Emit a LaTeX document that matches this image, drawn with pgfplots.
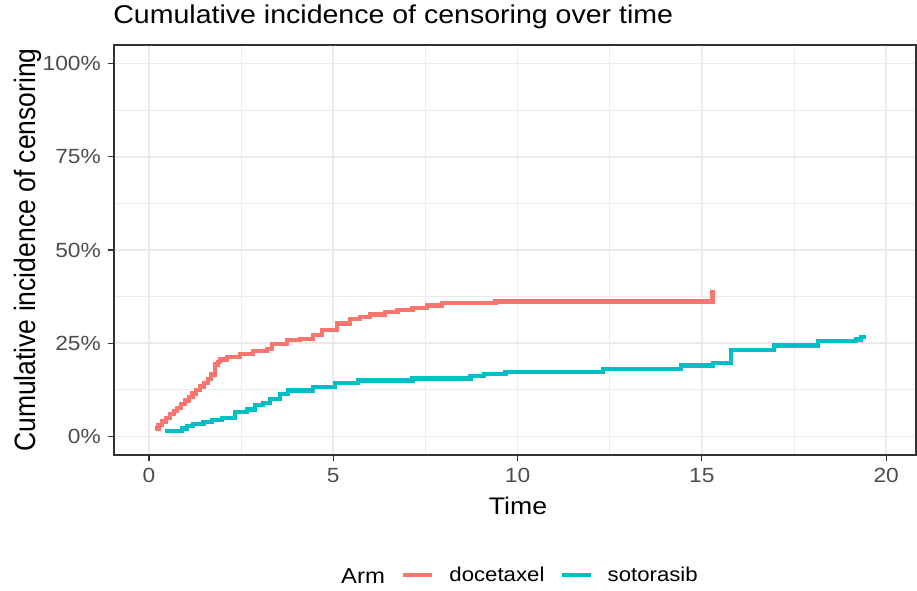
\documentclass[border=0pt]{standalone}
\usepackage{graphicx}
\usepackage{fontspec}
\setmainfont{Liberation Sans}[FakeStretch=1.11]
\newfontfamily\plainsans{Liberation Sans}
\usepackage{pgfplots}
\pgfplotsset{compat=1.18}
\definecolor{doce}{HTML}{F8766D}
\definecolor{soto}{HTML}{00BFC4}
\definecolor{gridc}{HTML}{EBEBEB}
\definecolor{gthirty}{HTML}{4D4D4D}
\definecolor{gtwenty}{HTML}{333333}
\begin{document}
\begin{tikzpicture}[x=1pt,y=1pt]
\useasboundingbox (0,0) rectangle (917,590);
\begin{axis}[
  at={(114pt,135pt)}, anchor=south west,
  scale only axis, width=802pt, height=410pt,
  xmin=-0.95, xmax=20.81, ymin=-5, ymax=105,
  xtick={0,5,10,15,20}, xticklabels={0,5,10,15,20},
  ytick={0,25,50,75,100}, yticklabels={0\%,25\%,50\%,75\%,100\%},
  minor xtick={2.5,7.5,12.5,17.5}, minor ytick={12.5,37.5,62.5,87.5},
  grid=both,
  major grid style={gridc, line width=1.7pt},
  minor grid style={gridc, line width=0.85pt},
  minor tick length=0pt,
  major tick length=6pt,
  tick align=outside,
  xtick pos=bottom, ytick pos=left,
  tick style={gtwenty, line width=1.1pt},
  axis line style={gtwenty, line width=1.1pt},
  tick label style={font=\fontsize{20.5}{20.5}\selectfont, text=gthirty, inner sep=0pt},
  xticklabel style={anchor=north, yshift=-7pt},
  yticklabel style={anchor=east, xshift=-7pt},
  title={Cumulative incidence of censoring over time},
  title style={at={(axis description cs:-0.001,1.0366)}, anchor=base west, inner sep=0pt, font=\fontsize{25.7}{25.7}\selectfont},
  xlabel={Time},
  xlabel style={at={(axis description cs:0.5037,-0.1439)}, anchor=base, inner sep=0pt, font=\fontsize{24}{24}\selectfont},
  ylabel={\scalebox{1}[1.11]{\plainsans\fontsize{26.5}{26.5}\selectfont Cumulative incidence of censoring}},
  ylabel style={at={(axis description cs:-0.0985,0.5)}, rotate=0, anchor=base, inner sep=0pt},
  legend columns=2,
  legend style={draw=none, fill=none, inner sep=0pt, at={(axis description cs:0.3579,-0.292)}, anchor=west,
    nodes={inner sep=0pt, font=\fontsize{20}{20}\selectfont},
    /tikz/every odd column/.append style={column sep=15pt},
    /tikz/every even column/.append style={column sep=15pt}},
  legend image code/.code={\draw[#1, line width=4.2pt] (0pt,0pt) -- (29pt,0pt);},
  clip=false,
]
\addplot[const plot, doce, line width=4.2pt] coordinates {
(0.16,2.1)(0.26,3.0)(0.36,4.0)(0.47,4.9)(0.57,5.9)(0.67,6.8)(0.77,7.7)(0.87,8.7)
(0.98,9.6)(1.08,10.6)(1.18,11.5)(1.28,12.4)(1.38,13.4)(1.49,14.3)(1.59,15.3)(1.69,16.6)
(1.79,19.3)(1.87,20.0)(1.93,20.6)(2.12,21.3)(2.47,22.0)(2.83,22.9)(3.21,23.5)(3.34,24.7)(3.75,25.8)
(4.10,26.2)(4.46,27.1)(4.70,28.5)(5.11,30.3)(5.46,31.4)(5.73,32.0)(6.00,32.7)(6.41,33.3)(6.74,34.0)
(7.15,34.5)(7.55,35.1)(7.96,35.7)(9.40,36.2)(15.29,39.4)
};
\addlegendentry{docetaxel}
\addplot[const plot, soto, line width=4.2pt] coordinates {
(0.43,1.4)(0.89,2.1)(1.02,2.8)(1.20,3.4)(1.48,3.9)(1.70,4.4)(1.98,5.0)(2.34,6.6)(2.66,7.2)(2.88,8.4)
(3.10,9.0)(3.29,10.1)(3.56,11.3)(3.78,12.3)(4.46,13.3)(5.05,14.4)(5.68,15.0)(7.15,15.5)(8.72,16.2)
(9.08,16.8)(9.67,17.3)(12.31,18.0)(14.43,19.0)(15.30,19.7)(15.79,23.1)(16.96,24.4)(18.15,25.5)
(19.18,26.0)(19.32,26.7)(19.46,26.7)
};
\addlegendentry{sotorasib}
\node[anchor=base west, inner sep=0pt, font=\fontsize{21.5}{21.5}\selectfont] at (axis description cs:0.2830,-0.3122) {Arm};
\end{axis}
\end{tikzpicture}
\end{document}
